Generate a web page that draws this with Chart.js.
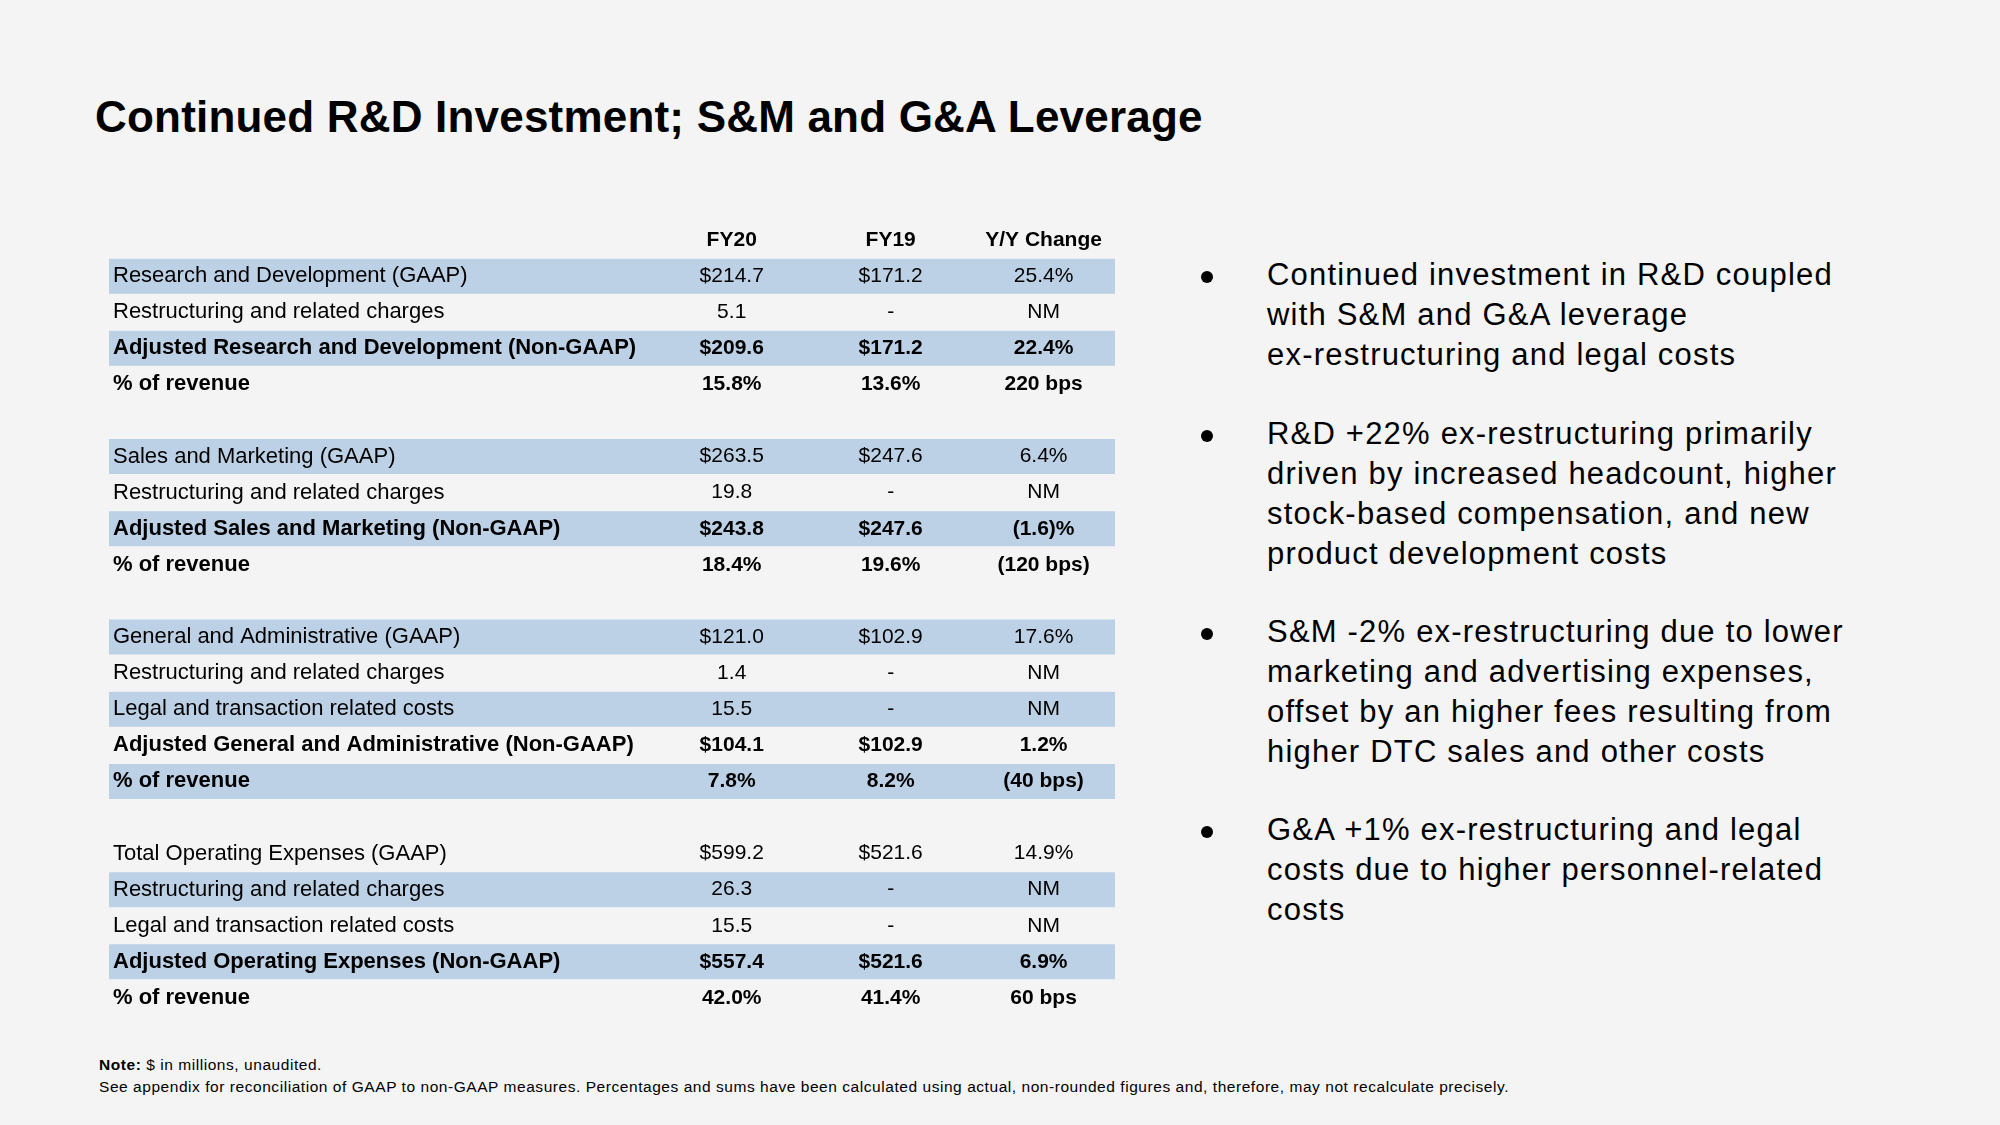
<!DOCTYPE html>
<html>
<head>
<meta charset="utf-8">
<script src="https://cdn.jsdelivr.net/npm/chart.js@4"></script>
<style>
  html, body { margin: 0; padding: 0; }
  body {
    width: 2000px; height: 1125px; position: relative; overflow: hidden;
    background: #f4f4f4; color: #000;
    font-family: "Helvetica Neue", Helvetica, Arial, "Liberation Sans", sans-serif;
  }
  h1 {
    position: absolute; left: 95px; top: 95px; margin: 0;
    font-size: 44px; line-height: 44px; font-weight: bold; letter-spacing: 0.2px;
  }
  #table-box { position: absolute; left: 101px; top: 222px; width: 1014px; height: 794px; }
  .point {
    position: absolute; left: 1267px; margin: 0;
    font-size: 31px; line-height: 40px; letter-spacing: 1.2px; white-space: nowrap;
  }
  .point::before {
    content: ""; position: absolute; left: -66px; top: 16px;
    width: 12px; height: 12px; border-radius: 50%; background: #000;
  }
  .note {
    position: absolute; left: 99px; margin: 0;
    font-size: 15.5px; line-height: 20px; letter-spacing: 0.55px; white-space: nowrap;
  }
</style>
</head>
<body>
<h1>Continued R&amp;D Investment; S&amp;M and G&amp;A Leverage</h1>

<div id="table-box"><canvas id="tabela"></canvas></div>

<p class="point" style="top:255px">Continued investment in R&amp;D coupled<br>with S&amp;M and G&amp;A leverage<br>ex-restructuring and legal costs</p>
<p class="point" style="top:414px">R&amp;D +22% ex-restructuring primarily<br>driven by increased headcount, higher<br>stock-based compensation, and new<br>product development costs</p>
<p class="point" style="top:612px">S&amp;M -2% ex-restructuring due to lower<br>marketing and advertising expenses,<br>offset by an higher fees resulting from<br>higher DTC sales and other costs</p>
<p class="point" style="top:810px">G&amp;A +1% ex-restructuring and legal<br>costs due to higher personnel-related<br>costs</p>

<p class="note" style="top:1055px"><b>Note:</b> $ in millions, unaudited.</p>
<p class="note" style="top:1077px">See appendix for reconciliation of GAAP to non-GAAP measures. Percentages and sums have been calculated using actual, non-rounded figures and, therefore, may not recalculate precisely.</p>

<script>
// linha 0 = cabeçalho, linhas vazias = espaço entre blocos
const rowLabels = [
  '',
  'Research and Development (GAAP)',
  'Restructuring and related charges',
  'Adjusted Research and Development (Non-GAAP)',
  '% of revenue',
  '',
  'Sales and Marketing (GAAP)',
  'Restructuring and related charges',
  'Adjusted Sales and Marketing (Non-GAAP)',
  '% of revenue',
  '',
  'General and Administrative (GAAP)',
  'Restructuring and related charges',
  'Legal and transaction related costs',
  'Adjusted General and Administrative (Non-GAAP)',
  '% of revenue',
  '',
  'Total Operating Expenses (GAAP)',
  'Restructuring and related charges',
  'Legal and transaction related costs',
  'Adjusted Operating Expenses (Non-GAAP)',
  '% of revenue'
]

const columns = ['FY20', 'FY19', 'Y/Y Change']

const fy20 = ['', '$214.7', '5.1', '$209.6', '15.8%', '', '$263.5', '19.8', '$243.8', '18.4%', '',
  '$121.0', '1.4', '15.5', '$104.1', '7.8%', '', '$599.2', '26.3', '15.5', '$557.4', '42.0%']
const fy19 = ['', '$171.2', '-', '$171.2', '13.6%', '', '$247.6', '-', '$247.6', '19.6%', '',
  '$102.9', '-', '-', '$102.9', '8.2%', '', '$521.6', '-', '-', '$521.6', '41.4%']
const yoy = ['', '25.4%', 'NM', '22.4%', '220 bps', '', '6.4%', 'NM', '(1.6)%', '(120 bps)', '',
  '17.6%', 'NM', 'NM', '1.2%', '(40 bps)', '', '14.9%', 'NM', 'NM', '6.9%', '60 bps']

const shadedRows = [1, 3, 6, 8, 11, 13, 15, 18, 20]
const boldRows = [0, 3, 4, 8, 9, 14, 15, 20, 21]

// centro de cada coluna na escala x (0-100)
const columnCenters = [61.9, 77.7, 92.9]

const FONT = '"Helvetica Neue", Helvetica, Arial, "Liberation Sans", sans-serif'
const BAND = '#bdd1e6'
const ctx = document.getElementById('tabela').getContext('2d')

// escreve os valores das colunas em cima das faixas
const tableText = {
  id: 'tableText',
  afterDatasetsDraw(chart) {
    const { ctx, scales: { x, y } } = chart
    ctx.save()
    ctx.textAlign = 'center'
    ctx.textBaseline = 'middle'
    ctx.fillStyle = '#000'
    const series = [fy20, fy19, yoy]
    columns.forEach((name, c) => {
      const cx = x.getPixelForValue(columnCenters[c])
      ctx.font = `bold 21px ${FONT}`
      ctx.fillText(name, cx, y.getPixelForValue(0))
      series[c].forEach((v, i) => {
        if (!v) return
        ctx.font = `${boldRows.includes(i) ? 'bold ' : ''}21px ${FONT}`
        ctx.fillText(v, cx, y.getPixelForValue(i))
      })
    })
    ctx.restore()
  }
}

new Chart(ctx, {
  type: 'bar',
  data: {
    labels: rowLabels,
    datasets: [{
      label: 'faixas',
      data: rowLabels.map((_, i) => shadedRows.includes(i) ? [0, 100] : null),
      backgroundColor: BAND,
      borderWidth: 0,
      barPercentage: 0.97,
      categoryPercentage: 1
    }]
  },
  options: {
    indexAxis: 'y',
    responsive: true,
    maintainAspectRatio: false,
    animation: false,
    layout: { padding: 0 },
    plugins: {
      legend: { display: false },
      tooltip: { enabled: false }
    },
    scales: {
      x: { type: 'linear', min: 0, max: 100, display: false },
      y: {
        // sem margem extra em cima/embaixo para as linhas ficarem alinhadas
        afterFit: (s) => { s.paddingTop = 0; s.paddingBottom = 0 },
        grid: { display: false, drawTicks: false },
        border: { display: false },
        ticks: {
          z: 1,
          mirror: true,
          crossAlign: 'near',
          padding: 4,
          autoSkip: false,
          color: '#000',
          font: (c) => ({ family: FONT, size: 22, weight: boldRows.includes(c.index) ? 'bold' : 'normal' })
        }
      }
    }
  },
  plugins: [tableText]
})
</script>
</body>
</html>
